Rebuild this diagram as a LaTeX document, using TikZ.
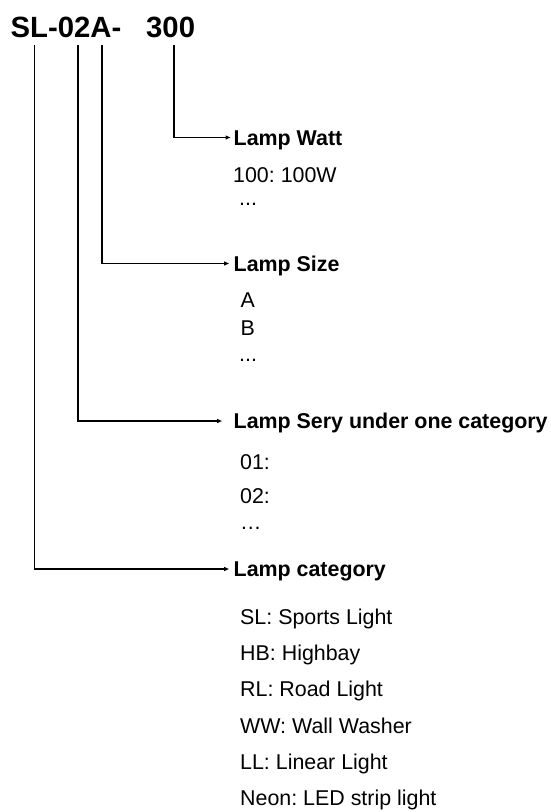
\documentclass[tikz,border=0pt]{standalone}
\usepackage{fontspec}
\setmainfont{Liberation Sans}
\usepackage{tikz}
\usetikzlibrary{arrows.meta}
\frenchspacing

\tikzset{
	head/.style={font=\bfseries\fontsize{29.3}{29.3}\selectfont, inner sep=0pt, anchor=base west},
	field/.style={font=\bfseries\fontsize{21.4}{21.4}\selectfont, inner sep=0pt, anchor=base west, text height=15pt, text depth=0pt},
	entry/.style={font=\fontsize{21.4}{21.4}\selectfont, inner sep=0pt, anchor=base west},
	link/.style={line width=1.6pt, -{Triangle[length=5pt,width=4pt]}},
}

\begin{document}
\begin{tikzpicture}[x=1pt,y=-1pt]

%
\useasboundingbox (0,0) rectangle (551,812);
\node[head] (code) at (10.5,37) {SL-02A-};
\node[head] (watt) at (146,37) {300};
\coordinate (cat) at (34.5,45);
\coordinate (sery) at (78,45);
\coordinate (size) at (102,45);
\coordinate (pow) at (174,45);

\node[field] (wattlbl) at (233.5,145) {Lamp Watt};
\node[entry] (w1) at (233,182) {100: 100W};
\node[entry] (w2) at (239,205) {...};

\node[field] (sizelbl) at (233.5,271) {Lamp Size};
\node[entry] (s1) at (240.5,307.5) {A};
\node[entry] (s2) at (240.5,335) {B};
\node[entry] (s3) at (239,361) {...};

\node[field] (serylbl) at (233.5,428.5) {Lamp Sery under one category};
\node[entry] (r1) at (240,469) {01:};
\node[entry] (r2) at (240,503) {02:};
\node[entry] (r3) at (240,529.5) {…};

\node[field] (catlbl) at (233.5,576.5) {Lamp category};
\node[entry] (c1) at (240,624.5) {SL: Sports Light};
\node[entry] (c2) at (240,660.5) {HB: Highbay};
\node[entry] (c3) at (240,696.5) {RL: Road Light};
\node[entry] (c4) at (240,733.5) {WW: Wall Washer};
\node[entry] (c5) at (240,769.5) {LL: Linear Light};
\node[entry] (c6) at (240,805.5) {Neon: LED strip light};

\draw[link, shorten >=3pt] (pow) |- (wattlbl.west);
\draw[link, shorten >=4.5pt] (size) |- (sizelbl.west);
\draw[link, shorten >=11.5pt] (sery) |- (serylbl.west);
\draw[link, shorten >=4.5pt] (cat) |- (catlbl.west);

\end{tikzpicture}
\end{document}
